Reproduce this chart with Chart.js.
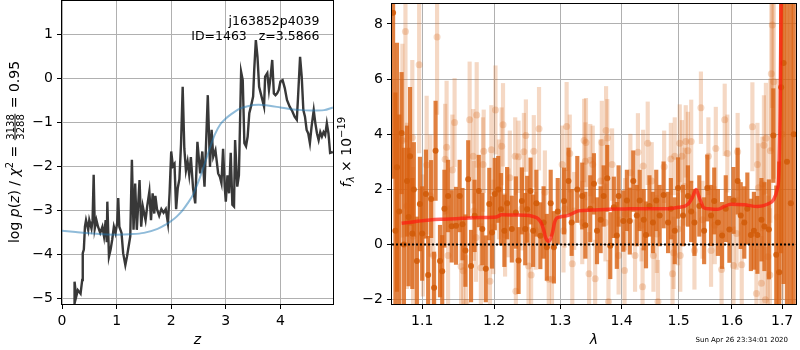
<!DOCTYPE html>
<html>
<head>
<meta charset="utf-8">
<script src="https://cdn.jsdelivr.net/npm/chart.js@4.4.1/dist/chart.umd.min.js"></script>
<style>
  html, body { margin: 0; padding: 0; background: #fff; }
  #wrap { position: relative; width: 800px; height: 350px; overflow: hidden; }
  canvas { position: absolute; top: 0; }
  #pz { left: 0; }
  #spec { left: 335px; }
</style>
</head>
<body>
<div id="wrap">
  <canvas id="pz" width="335" height="350"></canvas>
  <canvas id="spec" width="465" height="350"></canvas>
</div>
<script>
// redshift probability, log p(z)
const zVals = [
  0.21, 0.22, 0.23, 0.26, 0.29, 0.34, 0.37, 0.38, 0.40, 0.42, 0.44,
  0.48, 0.50, 0.54, 0.56, 0.58, 0.60, 0.63, 0.66, 0.70, 0.74,
  0.77, 0.80, 0.82, 0.83, 0.86, 0.89, 0.92, 0.95, 0.98, 1.01,
  1.03, 1.05, 1.09, 1.12, 1.16, 1.19, 1.22, 1.25, 1.28, 1.31,
  1.34, 1.37, 1.42, 1.45, 1.48, 1.53, 1.56, 1.60, 1.63, 1.66,
  1.69, 1.71, 1.74, 1.78, 1.82, 1.86, 1.90, 1.94, 1.97, 2.00,
  2.03, 2.06, 2.09, 2.12, 2.15, 2.18, 2.21, 2.24, 2.27, 2.30,
  2.33, 2.36, 2.40, 2.44, 2.48, 2.53, 2.57, 2.61, 2.67, 2.71,
  2.74, 2.77, 2.81, 2.86, 2.89, 2.92, 2.95, 2.98, 3.00, 3.03,
  3.06, 3.09, 3.12, 3.15, 3.17, 3.21, 3.24, 3.28, 3.31, 3.34,
  3.37, 3.40, 3.43, 3.46, 3.50, 3.52, 3.55, 3.58, 3.61, 3.64,
  3.67, 3.70, 3.72, 3.76, 3.79, 3.82, 3.85, 3.88, 3.91, 3.94,
  3.97, 4.00, 4.04, 4.08, 4.12, 4.17, 4.22, 4.26, 4.30, 4.32,
  4.36, 4.39, 4.42, 4.45, 4.48, 4.51, 4.54, 4.57, 4.61, 4.64,
  4.67, 4.70, 4.73, 4.76, 4.79, 4.82, 4.85, 4.88, 4.91, 4.96
];
const logpVals = [
  -5.6, -5.3, -4.63, -4.97, -4.82, -4.9, -4.59, -3.98, -3.9, -3.38, -3.23,
  -3.45, -3.23, -3.42, -3.23, -2.2, -3.42, -3.23, -3.38, -3.52, -3.38,
  -3.6, -3.23, -3.73, -2.81, -4.06, -3.9, -3.67, -3.38, -3.52, -3.3,
  -2.73, -3.38, -3.52, -3.98, -4.25, -4.06, -3.83, -3.6, -1.86, -3.45,
  -2.4, -3.45, -2.32, -3.38, -2.92, -3.23, -2.92, -2.58, -3.23, -2.62,
  -3.08, -2.68, -2.98, -3.13, -2.98, -3.06, -2.98, -3.3, -2.62, -1.67,
  -2.0, -1.95, -2.98, -2.5, -2.3, -1.5, -0.2, -1.6, -2.1, -1.9,
  -2.2, -1.8, -2.5, -2.85, -1.45, -2.17, -1.67, -2.47, -0.39, -2.02,
  -1.18, -1.79, -1.64, -2.17, -2.24, -2.39, -1.61, -2.47, -2.81, -2.21,
  -2.62, -1.7, -2.88, -2.92, -1.41, -2.47, -2.21, 0.14, -0.05, -1.48,
  -1.55, -1.33, -0.8, -0.65, -0.42, 0.18, 0.86, 0.48, -0.2, -0.35,
  -0.5, -0.65, 0.03, 0.11, -0.27, 0.03, 0.41, -0.35, -0.39, -0.35,
  -0.27, -0.08, -0.05, -0.23, -0.5, -0.65, -0.76, -0.88, -0.95, -0.5,
  0.48, 0.03, -0.73, -0.88, -1.18, -1.26, -1.48, -1.11, -0.73, -1.03,
  -1.26, -1.41, -1.23, -1.33, -1.23, -1.3, -1.03, -1.26, -1.7, -1.68
];
// smooth prior curve
const zSmooth = [0, 0.25, 0.5, 0.75, 1.0, 1.25, 1.5, 1.75, 1.9, 2.0, 2.1, 2.2, 2.3, 2.4, 2.5, 2.6,
  2.7, 2.8, 2.9, 3.0, 3.1, 3.25, 3.4, 3.6, 3.8, 4.0, 4.2, 4.4, 4.6, 4.8, 4.96];
const logpSmooth = [-3.47, -3.5, -3.53, -3.55, -3.56, -3.55, -3.52, -3.43, -3.33, -3.25, -3.15, -3.02,
  -2.85, -2.65, -2.35, -2.0, -1.62, -1.28, -1.05, -0.92, -0.82, -0.7, -0.64, -0.61, -0.63, -0.67,
  -0.71, -0.73, -0.74, -0.73, -0.67];
const zTicks = [0, 1, 2, 3, 4];
const logpTicks = [-5, -4, -3, -2, -1, 0, 1];

// spectrum, units of 1e-19
const darkLam = [
  1.062, 1.065, 1.067, 1.070, 1.073, 1.076, 1.080, 1.082, 1.084, 1.087,
  1.089, 1.093, 1.097, 1.100, 1.105, 1.108, 1.112, 1.116, 1.118, 1.124,
  1.127, 1.130, 1.135, 1.140, 1.146, 1.151, 1.155, 1.159, 1.163, 1.167,
  1.172, 1.178, 1.183, 1.188, 1.193, 1.197, 1.201, 1.206, 1.210, 1.215,
  1.219, 1.226, 1.232, 1.236, 1.241, 1.246, 1.249, 1.254, 1.258, 1.263,
  1.269, 1.274, 1.279, 1.285, 1.290, 1.296, 1.306, 1.313, 1.318, 1.327,
  1.335, 1.340, 1.348, 1.354, 1.359, 1.365, 1.370, 1.376, 1.381, 1.387,
  1.392, 1.395, 1.403, 1.409, 1.414, 1.420, 1.426, 1.431, 1.438, 1.442,
  1.448, 1.454, 1.460, 1.466, 1.473, 1.481, 1.486, 1.493, 1.499, 1.508,
  1.517, 1.523, 1.529, 1.538, 1.547, 1.553, 1.560, 1.566, 1.573, 1.581,
  1.588, 1.595, 1.603, 1.611, 1.617, 1.624, 1.630, 1.637, 1.643, 1.650,
  1.658, 1.664, 1.673, 1.682, 1.688, 1.694, 1.698, 1.703, 1.710, 1.718,
  1.724
];
const darkFlux = [
  8.4, 0.5, 2.8, 1.2, 4.04, 0.0, 2.3, 1.0, 3.2, 0.4,
  2.0, -0.6, 1.47, 0.4, 1.83, -1.1, 1.65, -1.57, 3.4, -0.6,
  -0.97, 1.3, 1.76, 0.66, 0.68, 1.76, 0.74, -0.22, 2.37, -0.78,
  1.04, 1.94, 0.56, -0.88, 1.47, 0.44, 1.83, 2.0, 1.28, 0.5,
  1.5, 0.56, 1.16, -0.58, 1.58, 0.56, 1.28, 1.94, 0.5, 1.5,
  0.32, 0.8, -0.1, 1.5, -0.1, 1.2, 1.58, 2.3, 0.8, 2.0,
  1.76, 0.7, 1.3, 2.2, 0.5, 0.9, 1.76, 2.4, -0.04, 1.35,
  0.33, 1.76, 0.85, 1.6, 0.85, 2.3, 1.05, 1.6, 0.9, 0.35,
  1.4, 0.8, 1.6, 1.05, 1.8, 0.8, 1.3, 0.5, 2.05, 1.05,
  1.76, 1.2, 0.8, 1.4, 0.5, 2.05, 1.05, 1.58, 0.8, 0.33,
  1.3, 0.55, 1.6, 2.3, 1.05, 0.8, 1.3, 0.35, 0.5, 0.35,
  0.9, 0.65, 0.55, 3.95, -0.37, -1.0, 5.7, 6.58, 3.0, 1.5,
  4.0
];
const darkErr = [
  6.0, 5.0, 4.5, 3.5, 2.2, 3.5, 2.0, 2.5, 2.5, 2.0,
  1.7, 1.6, 1.7, 1.7, 1.6, 1.4, 1.4, 1.3, 1.8, 1.3,
  1.3, 1.4, 1.3, 1.3, 1.4, 1.3, 1.3, 1.3, 1.4, 1.3,
  1.3, 1.3, 1.3, 1.2, 1.3, 1.3, 1.3, 1.2, 1.3, 1.3,
  1.3, 1.2, 1.3, 1.2, 1.2, 1.3, 1.2, 1.2, 1.3, 1.2,
  1.2, 1.3, 1.2, 1.2, 1.3, 1.2, 1.2, 1.2, 1.2, 1.2,
  1.2, 1.2, 1.2, 1.1, 1.2, 1.2, 1.1, 1.2, 1.2, 1.1,
  1.2, 1.1, 1.1, 1.1, 1.2, 1.1, 1.1, 1.1, 1.1, 1.2,
  1.1, 1.1, 1.1, 1.1, 1.2, 1.1, 1.1, 1.2, 1.1, 1.1,
  1.1, 1.1, 1.2, 1.1, 1.2, 1.2, 1.1, 1.2, 1.2, 1.2,
  1.2, 1.2, 1.2, 1.2, 1.2, 1.3, 1.3, 1.3, 1.4, 1.4,
  1.5, 1.6, 1.8, 1.7, 2.5, 4.0, 6.0, 8.0, 9.0, 10.0,
  10.0
];
const lightLam = [
  1.074, 1.078, 1.080, 1.087, 1.088, 1.096, 1.101, 1.106, 1.111, 1.115,
  1.120, 1.131, 1.133, 1.135, 1.141, 1.144, 1.153, 1.156, 1.160, 1.165,
  1.170, 1.171, 1.174, 1.175, 1.181, 1.184, 1.185, 1.194, 1.196, 1.199,
  1.202, 1.207, 1.211, 1.213, 1.216, 1.221, 1.223, 1.231, 1.232, 1.236,
  1.241, 1.244, 1.247, 1.251, 1.255, 1.259, 1.262, 1.267, 1.276, 1.282,
  1.287, 1.303, 1.305, 1.307, 1.310, 1.315, 1.319, 1.322, 1.335, 1.338,
  1.340, 1.341, 1.346, 1.348, 1.352, 1.356, 1.365, 1.367, 1.373, 1.374,
  1.376, 1.378, 1.384, 1.395, 1.405, 1.406, 1.415, 1.423, 1.428, 1.434,
  1.436, 1.437, 1.445, 1.452, 1.455, 1.461, 1.463, 1.474, 1.486, 1.489,
  1.491, 1.493, 1.499, 1.502, 1.503, 1.506, 1.511, 1.513, 1.517, 1.523,
  1.529, 1.541, 1.544, 1.555, 1.560, 1.567, 1.569, 1.580, 1.586, 1.591,
  1.603, 1.609, 1.611, 1.619, 1.640, 1.648, 1.650, 1.652, 1.658, 1.660,
  1.663, 1.666, 1.667, 1.671, 1.675, 1.676, 1.678, 1.680, 1.683, 1.690,
  1.700
];
const lightFlux = [
  3.77, 7.72, 1.4, 3.88, 0.3, 6.52, 0.33, 2.88, 1.77, -0.4,
  7.52, 3.09, 3.53, -0.4, 2.7, 4.42, -0.8, -0.95, -2.1, 4.52,
  3.2, 1.22, 0.26, 4.7, -0.84, 2.9, 3.38, -1.33, 3.44, 0.64,
  4.88, 2.0, 3.56, 4.34, 0.35, 1.15, 2.42, 3.2, -1.69, 3.18,
  1.3, 3.36, 3.95, -0.78, -1.1, 3.38, 0.5, 4.2, 1.9, -1.26,
  -1.26, 2.9, 0.5, 1.3, 4.28, 3.3, -0.7, 1.22, 0.8, 3.77,
  3.02, 3.7, -1.06, 3.06, 2.9, -1.24, 2.3, 3.7, 0.8, 4.13,
  3.86, -2.07, 2.9, -0.4, -0.94, 1.1, 2.6, -0.4, 3.35, 0.7,
  -1.53, 2.85, 3.67, 2.3, -0.4, 0.38, -2.07, 2.82, 3.1, -1.06,
  -0.3, 3.2, 0.56, 3.67, -0.4, 3.2, 2.1, 3.74, 3.4, 3.74,
  -0.22, 4.96, 0.9, 3.2, -0.22, 0.7, 3.48, -0.9, 4.52, 3.3,
  -0.76, 0.4, 3.36, -0.73, 4.27, -1.77, 2.9, 2.06, -1.4, 2.2,
  3.6, -2.0, 3.85, -0.44, -1.1, 3.4, 6.19, 7.96, 5.9, 1.0,
  4.0
];
const lightErr = [
  3.5, 4.0, 3.0, 2.8, 2.5, 3.2, 2.2, 2.5, 2.2, 2.0,
  2.8, 2.0, 2.4, 1.8, 2.0, 1.6, 1.5, 1.6, 1.7, 2.1,
  1.7, 1.8, 1.6, 1.9, 1.6, 1.7, 1.5, 1.5, 1.6, 1.7,
  1.6, 1.8, 1.4, 1.5, 1.5, 1.6, 1.7, 1.4, 1.5, 1.3,
  1.5, 1.4, 1.3, 1.4, 1.5, 1.3, 1.4, 1.5, 1.5, 1.4,
  1.5, 1.4, 1.5, 1.4, 1.6, 1.4, 1.5, 1.4, 1.5, 1.5,
  1.4, 1.6, 1.5, 1.3, 1.4, 1.4, 1.5, 1.5, 1.4, 1.6,
  1.4, 1.5, 1.3, 1.4, 1.4, 1.3, 1.4, 1.3, 1.4, 1.3,
  1.4, 1.3, 1.5, 1.4, 1.3, 1.4, 1.5, 1.3, 1.3, 1.4,
  1.3, 1.4, 1.3, 1.4, 1.3, 1.3, 1.4, 1.3, 1.4, 1.5,
  1.4, 1.3, 1.4, 1.4, 1.3, 1.4, 1.5, 1.4, 1.3, 1.4,
  1.4, 1.3, 1.4, 1.5, 1.6, 1.6, 1.5, 1.6, 1.7, 1.7,
  1.8, 1.9, 2.0, 2.2, 2.4, 2.6, 2.8, 3.0, 3.5, 5.0,
  6.0
];
// best-fit template
const modelLam = [
  1.073, 1.090, 1.110, 1.130, 1.155, 1.180, 1.203, 1.211, 1.230, 1.252,
  1.260, 1.265, 1.270, 1.274, 1.277, 1.280, 1.282, 1.285, 1.288, 1.291,
  1.294, 1.300, 1.313, 1.329, 1.350, 1.378, 1.405, 1.434, 1.460, 1.481,
  1.500, 1.517, 1.525, 1.532, 1.537, 1.542, 1.546, 1.555, 1.573, 1.585,
  1.598, 1.624, 1.650, 1.670, 1.683, 1.690, 1.693, 1.696, 1.698, 1.700
];
const modelFlux = [
  0.77, 0.83, 0.89, 0.92, 0.95, 0.98, 1.0, 1.08, 1.07, 1.05,
  1.0, 0.95, 0.8, 0.55, 0.26, 0.14, 0.12, 0.22, 0.45, 0.8,
  0.95, 1.0, 1.06, 1.22, 1.25, 1.28, 1.29, 1.3, 1.3, 1.3,
  1.35, 1.46, 1.7, 2.0, 1.76, 1.5, 1.34, 1.3, 1.28, 1.38,
  1.46, 1.44, 1.38, 1.46, 1.64, 2.0, 2.45, 5.0, 9.0, 12.0
];
const lamTicks = [1.1, 1.2, 1.3, 1.4, 1.5, 1.6, 1.7];
const fluxTicks = [-2, 0, 2, 4, 6, 8];
const lamRange = [1.0606, 1.7288];

const FONT = '"DejaVu Sans"';
Chart.defaults.font.family = FONT;
Chart.defaults.color = '#000';

const minus = v => (v < 0 ? '\u2212' + Math.abs(v) : String(v));

// fixed axis sizes, no extra room for end labels
const fitX = h => s => { s.height = h; s.paddingLeft = 0; s.paddingRight = 0; };
const fitY = w => s => { s.width = w; s.paddingTop = 0; s.paddingBottom = 0; };

function axis(min, max, ticks, fmt, fit) {
  return {
    min, max,
    offset: false,
    afterBuildTicks: s => { s.ticks = ticks.map(v => ({ value: v })); },
    afterFit: fit,
    grid: { color: '#b0b0b0', lineWidth: 1, offset: false, drawTicks: true,
            tickLength: 5, tickColor: '#000', tickWidth: 1 },
    border: { display: false },
    ticks: { color: '#000', font: { size: 14 }, padding: 4, maxRotation: 0,
             autoSkip: false, callback: fmt }
  };
}

// axes box on all four sides
const frame = {
  id: 'frame',
  afterDraw(chart) {
    const { ctx, chartArea: a } = chart;
    ctx.save();
    ctx.strokeStyle = '#000';
    ctx.lineWidth = 1;
    ctx.strokeRect(a.left - 0.5, a.top - 0.5, a.width + 1, a.height + 1);
    ctx.restore();
  }
};

// rotated axis label built from pieces (sub/superscripts, a stacked fraction)
function drawRotated(ctx, parts, baseX, centerY) {
  ctx.save();
  let total = 0;
  parts.forEach(p => {
    ctx.font = p.font;
    p.w = p.frac
      ? Math.max(ctx.measureText(p.frac[0]).width, ctx.measureText(p.frac[1]).width) + 3
      : ctx.measureText(p.text).width;
    total += p.w;
  });
  ctx.translate(baseX, centerY);
  ctx.rotate(-Math.PI / 2);
  ctx.fillStyle = '#000';
  ctx.textBaseline = 'alphabetic';
  let x = -total / 2;
  parts.forEach(p => {
    ctx.font = p.font;
    if (p.frac) {
      ctx.textAlign = 'center';
      ctx.fillText(p.frac[0], x + p.w / 2, -5.5);
      ctx.fillText(p.frac[1], x + p.w / 2, 4.5);
      ctx.fillRect(x + 1, -4.5, p.w - 2, 1);
      ctx.textAlign = 'left';
    } else {
      ctx.textAlign = 'left';
      ctx.fillText(p.text, x, p.dy || 0);
    }
    x += p.w;
  });
  ctx.restore();
}

const R = '14px ' + FONT, I = 'italic 14px ' + FONT;
const S = '10px ' + FONT, IS = 'italic 10px ' + FONT;

const pzText = {
  id: 'pzText',
  afterDraw(chart) {
    const ctx = chart.ctx;
    drawRotated(ctx, [
      { text: 'log ', font: R }, { text: 'p', font: I }, { text: '(', font: R },
      { text: 'z', font: I }, { text: ') / ', font: R }, { text: '\u03c7', font: I },
      { text: '2', font: S, dy: -6 }, { text: ' = ', font: R },
      { frac: ['3138', '3288'], font: S }, { text: ' = 0.95', font: R }
    ], 19, 152);
    ctx.save();
    ctx.fillStyle = '#000';
    ctx.font = I;
    ctx.textAlign = 'center';
    ctx.fillText('z', (chart.chartArea.left + chart.chartArea.right) / 2, 344);
    ctx.font = '12.5px ' + FONT;
    ctx.textAlign = 'right';
    ctx.fillText('j163852p4039', 319.5, 24.5);
    ctx.fillText('ID=1463   z=3.5866', 319.5, 39.5);
    ctx.restore();
  }
};

const specText = {
  id: 'specText',
  afterDraw(chart) {
    const ctx = chart.ctx;
    drawRotated(ctx, [
      { text: 'f', font: I }, { text: '\u03bb', font: IS, dy: 3 },
      { text: ' \u00d7 10', font: R }, { text: '\u221219', font: S, dy: -6 }
    ], 16, 152);
    ctx.save();
    ctx.fillStyle = '#000';
    ctx.font = I;
    ctx.textAlign = 'center';
    ctx.fillText('\u03bb', (chart.chartArea.left + chart.chartArea.right) / 2, 344);
    ctx.font = '7px ' + FONT;
    ctx.textAlign = 'right';
    ctx.fillText('Sun Apr 26 23:34:01 2020', 453, 342);
    ctx.restore();
  }
};

// left panel: p(z)
new Chart(document.getElementById('pz'), {
  type: 'line',
  data: {
    datasets: [
      {
        data: zSmooth.map((z, i) => ({ x: z, y: logpSmooth[i] })),
        borderColor: 'rgba(31,119,180,0.5)',
        borderWidth: 2,
        pointRadius: 0,
        cubicInterpolationMode: 'monotone',
        order: 1
      },
      {
        data: zVals.map((z, i) => ({ x: z, y: logpVals[i] })),
        borderColor: '#383838',
        borderWidth: 2.4,
        pointRadius: 0,
        tension: 0,
        order: 2
      }
    ]
  },
  options: {
    responsive: false,
    animation: false,
    devicePixelRatio: 1,
    layout: { padding: { left: 0, right: 2, top: 1, bottom: 0 } },
    plugins: { legend: { display: false }, tooltip: { enabled: false } },
    scales: {
      x: Object.assign({ type: 'linear' }, axis(0, 4.963, zTicks, v => String(v), fitX(46))),
      y: Object.assign({ type: 'linear' }, axis(-5.136, 1.75, logpTicks, minus, fitY(62)))
    }
  },
  plugins: [frame, pzText]
});

// right panel: spectrum with error bars
const errBars = (lam, flux, err) =>
  lam.map((l, i) => ({ x: l, y: [flux[i] - err[i], flux[i] + err[i]] }));
const pts = (lam, flux) => lam.map((l, i) => ({ x: l, y: flux[i] }));

new Chart(document.getElementById('spec'), {
  type: 'bar',
  data: {
    datasets: [
      {
        type: 'bar', data: errBars(lightLam, lightFlux, lightErr),
        backgroundColor: 'rgba(217,98,18,0.25)', barThickness: 3.5,
        grouped: false, borderWidth: 0, order: 6
      },
      {
        type: 'line', data: pts(lightLam, lightFlux), showLine: false,
        pointRadius: 3.5, pointBorderWidth: 0,
        pointBackgroundColor: 'rgba(217,98,18,0.25)', order: 5
      },
      {
        type: 'bar', data: errBars(darkLam, darkFlux, darkErr),
        backgroundColor: 'rgba(217,98,18,0.8)', barThickness: 3.5,
        grouped: false, borderWidth: 0, order: 4
      },
      {
        type: 'line', data: pts(darkLam, darkFlux), showLine: false,
        pointRadius: 3, pointBorderWidth: 0,
        pointBackgroundColor: 'rgba(210,92,10,0.9)', order: 3
      },
      {
        type: 'line', data: pts(modelLam, modelFlux),
        borderColor: 'rgba(255,25,15,0.7)', borderWidth: 3.5,
        pointRadius: 0, cubicInterpolationMode: 'monotone', order: 2
      },
      {
        type: 'line', data: lamRange.map(l => ({ x: l, y: 0 })),
        borderColor: '#000', borderWidth: 2, borderDash: [2, 2],
        pointRadius: 0, order: 1
      }
    ]
  },
  options: {
    responsive: false,
    animation: false,
    devicePixelRatio: 1,
    layout: { padding: { left: 0, right: 1, top: 1, bottom: 0 } },
    plugins: { legend: { display: false }, tooltip: { enabled: false } },
    scales: {
      x: Object.assign({ type: 'logarithmic' },
        axis(lamRange[0], lamRange[1], lamTicks, v => v.toFixed(1), fitX(46))),
      y: Object.assign({ type: 'linear' }, axis(-2.155, 8.72, fluxTicks, minus, fitY(57)))
    }
  },
  plugins: [frame, specText]
});
</script>
</body>
</html>
